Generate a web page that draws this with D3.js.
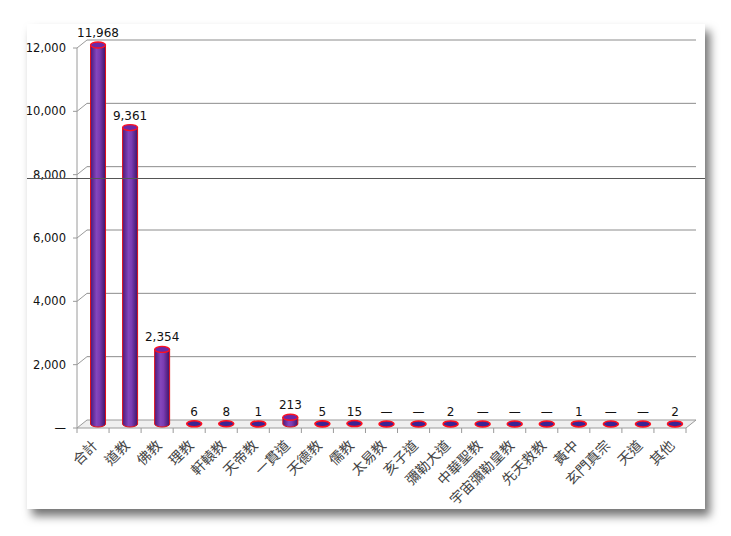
<!DOCTYPE html>
<html>
<head>
<meta charset="utf-8">
<script src="https://cdn.jsdelivr.net/npm/d3@7"></script>
<style>
  body { margin: 0; background: #fff; }
  text { font-family: "DejaVu Sans", Verdana, sans-serif; }
</style>
</head>
<body>
<svg id="chart" width="731" height="536"></svg>
<script>
// 類別與數值
const categories = ["合計", "道教", "佛教", "理教", "軒轅教", "天帝教", "一貫道", "天德教", "儒教",
  "太易教", "亥子道", "彌勒大道", "中華聖教", "宇宙彌勒皇教", "先天救教", "黃中", "玄門真宗", "天道", "其他"];
const values = [11968, 9361, 2354, 6, 8, 1, 213, 5, 15, 0, 0, 2, 0, 0, 0, 1, 0, 0, 2];
const yTicks = [0, 2000, 4000, 6000, 8000, 10000, 12000];

function drawChart() {
    let svg = d3.select("#chart");

    // 陰影
    let defs = svg.append("defs");
    let filter = defs.append("filter").attr("id", "shadow")
        .attr("x", "-10%").attr("y", "-10%").attr("width", "125%").attr("height", "125%");
    filter.append("feDropShadow")
        .attr("dx", 5).attr("dy", 7).attr("stdDeviation", 5)
        .attr("flood-color", "#000").attr("flood-opacity", 0.55);

    let grad = defs.append("linearGradient").attr("id", "cyl")
        .attr("x1", "0%").attr("x2", "100%").attr("y1", "0%").attr("y2", "0%");
    grad.append("stop").attr("offset", "0%").attr("stop-color", "#4b1a7a");
    grad.append("stop").attr("offset", "40%").attr("stop-color", "#8446bd");
    grad.append("stop").attr("offset", "60%").attr("stop-color", "#7a3bb2");
    grad.append("stop").attr("offset", "100%").attr("stop-color", "#3f1468");

    svg.append("rect")
        .attr("x", 27).attr("y", 24).attr("width", 678).attr("height", 485)
        .attr("fill", "#fff")
        .attr("filter", "url(#shadow)");

    // 前面座標
    let x0 = 77, x1 = 686;
    let depthX = 10, depthY = -8;

    let x = d3.scaleBand().domain(categories).range([x0, x1]);
    let y = d3.scaleLinear().domain([0, 12000]).range([428, 48]);

    let g = svg.append("g");

    // 地板
    g.append("polygon")
        .attr("points", [[x0, y(0)], [x1, y(0)], [x1 + depthX, y(0) + depthY], [x0 + depthX, y(0) + depthY]].join(" "))
        .attr("fill", "#efefef").attr("stroke", "#9a9a9a");

    // 格線
    yTicks.forEach(t => {
        if (t === 0) return;
        g.append("line")
            .attr("x1", x0 + depthX).attr("x2", x1 + depthX)
            .attr("y1", y(t) + depthY).attr("y2", y(t) + depthY)
            .attr("stroke", "#8c8c8c");
        g.append("polyline")
            .attr("points", [[x0 - 4, y(t)], [x0, y(t)], [x0 + depthX, y(t) + depthY]].join(" "))
            .attr("fill", "none").attr("stroke", "#9a9a9a");
    });
    g.append("line")
        .attr("x1", x0 - 4).attr("x2", x0)
        .attr("y1", y(0)).attr("y2", y(0))
        .attr("stroke", "#9a9a9a");

    // 縱軸
    g.append("line")
        .attr("x1", x0).attr("x2", x0)
        .attr("y1", y(12000)).attr("y2", y(0))
        .attr("stroke", "#9a9a9a");

    g.selectAll(".ylab")
        .data(yTicks)
        .enter()
        .append("text")
        .attr("x", 66)
        .attr("y", d => y(d))
        .attr("dy", "0.35em")
        .attr("text-anchor", "end")
        .attr("font-size", 11.5)
        .attr("fill", "#111")
        .text(d => d === 0 ? "—" : d3.format(",")(d));

    // 橫軸刻度
    let ticksX = categories.map(c => x(c)).concat([x1]);
    g.selectAll(".xtick")
        .data(ticksX)
        .enter()
        .append("line")
        .attr("x1", d => d).attr("x2", d => d)
        .attr("y1", y(0)).attr("y2", y(0) + 5)
        .attr("stroke", "#9a9a9a");

    // 圓柱
    let r = 7.5, ry = 3;
    let bars = g.selectAll(".bar")
        .data(values)
        .enter()
        .append("g");

    bars.each(function (d, i) {
        let sel = d3.select(this);
        let cx = x(categories[i]) + x.bandwidth() / 2 + depthX / 2;
        let base = y(0) + depthY / 2;
        let top = y(d) + depthY / 2;

        if (base - top > 1) {
            sel.append("path")
                .attr("d", "M" + (cx - r) + "," + top +
                    " L" + (cx - r) + "," + base +
                    " A" + r + "," + ry + " 0 0 0 " + (cx + r) + "," + base +
                    " L" + (cx + r) + "," + top + " Z")
                .attr("fill", "url(#cyl)")
                .attr("stroke", "#e0101a")
                .attr("stroke-width", 1);
            sel.append("ellipse")
                .attr("cx", cx).attr("cy", top)
                .attr("rx", r).attr("ry", ry)
                .attr("fill", "#6a2aa6")
                .attr("stroke", "#ff1020")
                .attr("stroke-width", 1.3);
        } else {
            sel.append("ellipse")
                .attr("cx", cx).attr("cy", top)
                .attr("rx", r).attr("ry", ry)
                .attr("fill", "#3a2494")
                .attr("stroke", "#ff1020")
                .attr("stroke-width", 1.6);
        }

        sel.append("text")
            .attr("x", cx)
            .attr("y", top - 8)
            .attr("text-anchor", "middle")
            .attr("font-size", 12)
            .attr("fill", "#111")
            .text(d === 0 ? "—" : d3.format(",")(d));
    });

    // 類別標籤
    g.selectAll(".xlab")
        .data(categories)
        .enter()
        .append("text")
        .attr("transform", d => "translate(" + (x(d) + x.bandwidth() / 2 + 2) + "," + (y(0) + 15) + ") rotate(-45)")
        .attr("text-anchor", "end")
        .attr("dy", "0.35em")
        .attr("font-size", 14)
        .attr("fill", "#444")
        .style("font-family", "'Noto Sans CJK TC', sans-serif")
        .text(d => d);

    // 橫貫的深色線
    svg.append("line")
        .attr("x1", 27).attr("x2", 705)
        .attr("y1", 178.5).attr("y2", 178.5)
        .attr("stroke", "#555").attr("stroke-width", 1);
}

drawChart();
</script>
</body>
</html>
